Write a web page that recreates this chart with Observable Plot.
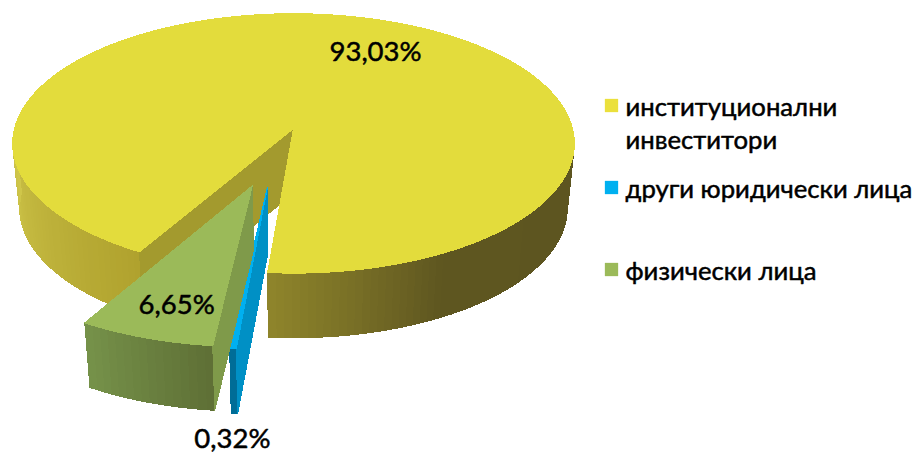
<!DOCTYPE html>
<html>
<head>
<meta charset="utf-8">
<script src="https://cdn.jsdelivr.net/npm/d3@7"></script>
<script src="https://cdn.jsdelivr.net/npm/@observablehq/plot@0.6"></script>
<style>
html,body{margin:0;padding:0;background:#fff}
svg{display:block}
</style>
</head>
<body>
<div id="chart"></div>
<script>
// Chart values
const categories = ["институционални инвеститори", "други юридически лица", "физически лица"];
const legendLines = [["институционални", "инвеститори"], ["други юридически лица"], ["физически лица"]];
const shares = [93.03, 0.32, 6.65];
const shareLabels = ["93,03%", "0,32%", "6,65%"];

// Colours
const topColors = ["#e3dc3c", "#00b0f0", "#9bba59"];
const cutColors = ["#a39a2e", "#0090c5", "#7f9a4a"];
const legendColors = ["#ebe03c", "#00b0f0", "#9bba59"];
const wallRamps = [
  [{from: 0, to: 0.18, c: ["#b0a22e", "#cfc64a"]}, {from: 0.66, to: 0.9, c: ["#5c5420", "#5e5620"]}, {from: 0.9, to: 1, c: ["#5e5620", "#8f852b"]}],
  [{from: 0, to: 1, c: ["#006d97", "#006d97"]}],
  [{from: 0, to: 1, c: ["#5e6f35", "#76924a"]}]
];

// 3D layout of the pie, in units of the disc radius
const startAngle = -29.8;     // degrees, 0 = facing the viewer, negative = towards the left
const perspective = 0.115;
const depth = 0.505;
const baseShrink = 0.975;
const explodeX = [0, -0.089, -0.14];
const explodeY = [0, 0.44, 0.425];
const drawOrder = [0, 1, 2];
const labelX = [0.294, -0.219, -0.419];
const labelY = [-0.594, 2.43, 1.383];

function project(X, Y, base) {
  const s = 1 / (1 - perspective * Y);
  return base
    ? {x: X * s * baseShrink, y: Y * s + depth}
    : {x: X * s, y: Y * s};
}
const rad = Math.PI / 180;
const total = d3.sum(shares);
let cursor = startAngle;
const slices = shares.map((v, i) => {
  const a0 = cursor, a1 = cursor - v / total * 360;
  cursor = a1;
  return {i, a0, a1, ex: explodeX[i], ey: explodeY[i]};
});
function rim(sl, a, base) {
  return project(sl.ex + Math.sin(a * rad), sl.ey + Math.cos(a * rad), base);
}
const apex = (sl, base) => project(sl.ex, sl.ey, base);

const polys = [];
let pid = 0;
function addPoly(points, fill) {
  const id = pid++;
  for (const p of points) polys.push({id, x: p.x, y: p.y, fill});
}
for (const i of drawOrder) {
  const sl = slices[i];
  const span = sl.a1 - sl.a0;
  // outer wall strips
  for (const seg of wallRamps[i]) {
    const n = Math.max(2, Math.ceil(Math.abs(span) * (seg.to - seg.from) / 1.5));
    const col = d3.interpolateRgb(seg.c[0], seg.c[1]);
    for (let k = 0; k < n; ++k) {
      const t0 = k / n, t1 = (k + 1) / n;
      const a = sl.a0 + span * (seg.from + (seg.to - seg.from) * t0);
      const b = sl.a0 + span * (seg.from + (seg.to - seg.from) * t1);
      addPoly([rim(sl, a, false), rim(sl, b, false), rim(sl, b, true), rim(sl, a, true)], col((t0 + t1) / 2));
    }
  }
  // cut face at the start of the slice
  addPoly([apex(sl, false), rim(sl, sl.a0, false), rim(sl, sl.a0, true), apex(sl, true)], cutColors[i]);
  // top face
  const top = [apex(sl, false)];
  const steps = Math.max(2, Math.ceil(Math.abs(span)));
  for (let k = 0; k <= steps; ++k) top.push(rim(sl, sl.a0 + span * k / steps, false));
  addPoly(top, topColors[i]);
}

const labels = shareLabels.map((t, i) => ({t, x: labelX[i], y: labelY[i]}));
const legendY = [105, 187, 269];
const legendText = legendLines.flatMap((lines, i) => lines.map((t, j) => ({t, dy: legendY[i] + 2 + j * 33})));
const legendKeys = legendColors.map((c, i) => ({c, dy: legendY[i]}));

const font = "Lato, 'Noto Sans', sans-serif";
const chart = Plot.plot({
  width: 920, height: 454,
  margin: 0,
  x: {domain: [-1, 1], range: [14, 572], axis: null},
  y: {domain: [-1, 1], range: [0, 256], axis: null},
  color: {type: "identity"},
  style: {background: "#fff"},
  marks: [
    Plot.line(polys, {x: "x", y: "y", z: "id", fill: "fill", stroke: "fill", strokeWidth: 1, strokeLinejoin: "round", curve: "linear-closed", shapeRendering: "crispEdges"}),
    Plot.text(labels, {x: "x", y: "y", text: "t", fill: "#000", fontSize: 27.5, fontFamily: font, stroke: "#000", strokeWidth: 0.5, textAnchor: "middle"}),
    ...legendKeys.map(d => Plot.dot([d.c], {frameAnchor: "top-left", dx: 611, dy: d.dy, symbol: "square", r: 7.5, fill: d.c, stroke: null})),
    ...legendText.map(d => Plot.text([d.t], {frameAnchor: "top-left", dx: 625, dy: d.dy, text: t => t, textAnchor: "start", lineAnchor: "middle", fill: "#000", fontSize: 25.7, fontFamily: font, stroke: "#000", strokeWidth: 0.5}))
  ]
});
document.getElementById("chart").appendChild(chart);
</script>
</body>
</html>
